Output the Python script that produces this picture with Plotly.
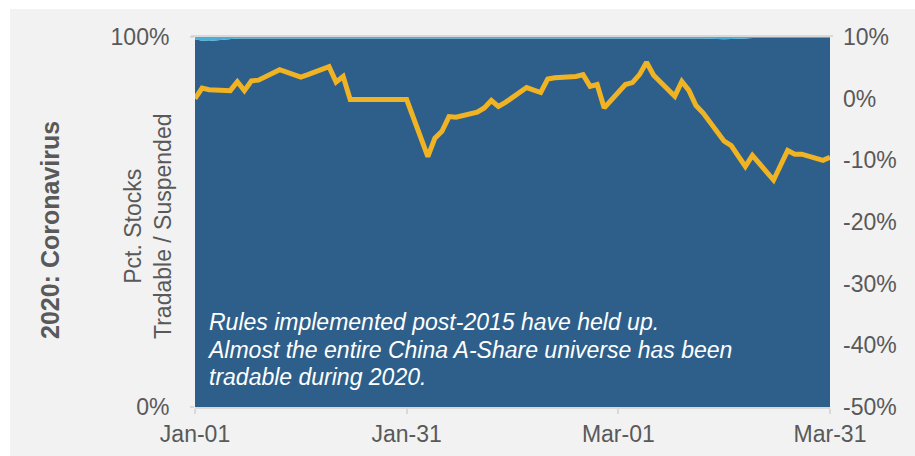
import plotly.graph_objects as go

# ---- data ----
line_dates = [
    "2020-01-01", "2020-01-02", "2020-01-03", "2020-01-06", "2020-01-07", "2020-01-08",
    "2020-01-09", "2020-01-10", "2020-01-13", "2020-01-14", "2020-01-15", "2020-01-16",
    "2020-01-17", "2020-01-20", "2020-01-21", "2020-01-22", "2020-01-23", "2020-01-24",
    "2020-01-27", "2020-01-28", "2020-01-29", "2020-01-30", "2020-01-31", "2020-02-03",
    "2020-02-04", "2020-02-05", "2020-02-06", "2020-02-07", "2020-02-10", "2020-02-11",
    "2020-02-12", "2020-02-13", "2020-02-14", "2020-02-17", "2020-02-18", "2020-02-19",
    "2020-02-20", "2020-02-21", "2020-02-24", "2020-02-25", "2020-02-26", "2020-02-27",
    "2020-02-28", "2020-03-02", "2020-03-03", "2020-03-04", "2020-03-05", "2020-03-06",
    "2020-03-09", "2020-03-10", "2020-03-11", "2020-03-12", "2020-03-13", "2020-03-16",
    "2020-03-17", "2020-03-18", "2020-03-19", "2020-03-20", "2020-03-23", "2020-03-24",
    "2020-03-25", "2020-03-26", "2020-03-27", "2020-03-30", "2020-03-31",
]
index_return_pct = [
    0.0, 1.7, 1.45, 1.3, 2.75, 1.3,
    2.9, 3.0, 4.7, 4.3, 3.9, 3.5,
    3.9, 5.2, 2.7, 3.6, -0.15, -0.15,
    -0.15, -0.15, -0.15, -0.15, -0.15, -9.4,
    -6.4, -5.3, -2.9, -3.0, -2.2, -1.5,
    -0.3, -1.25, -0.6, 1.8, 1.5, 1.0,
    3.2, 3.4, 3.6, 3.9, 2.0, 2.3,
    -1.5, 2.3, 2.6, 3.9, 5.9, 3.8,
    0.4, 2.8, 1.35, -1.1, -2.3, -6.9,
    -7.6, -9.3, -11.0, -9.2, -13.2, -10.8,
    -8.4, -9.0, -9.0, -10.0, -9.5,
]
suspended_pct = [
    0.6, 1.0, 1.1, 0.5, 0.4, 0.4,
    0.4, 0.3, 0.3, 0.3, 0.3, 0.3,
    0.3, 0.3, 0.3, 0.3, 0.3, 0.3,
    0.3, 0.3, 0.3, 0.3, 0.3, 0.3,
    0.3, 0.3, 0.3, 0.3, 0.3, 0.3,
    0.3, 0.3, 0.3, 0.3, 0.3, 0.3,
    0.3, 0.3, 0.3, 0.3, 0.3, 0.3,
    0.3, 0.3, 0.3, 0.3, 0.3, 0.3,
    0.3, 0.3, 0.3, 0.3, 0.4, 0.6,
    0.6, 0.5, 0.4, 0.3, 0.3, 0.3,
    0.3, 0.3, 0.3, 0.3, 0.3,
]
tradable_pct = [100 - s for s in suspended_pct]

left_tickvals = [0, 100]
left_ticktext = ["0%", "100%"]
right_tickvals = [-50, -40, -30, -20, -10, 0, 10]
right_ticktext = ["-50%", "-40%", "-30%", "-20%", "-10%", "0%", "10%"]
x_tickvals = ["2020-01-01", "2020-01-31", "2020-03-01", "2020-03-31"]
x_ticktext = ["Jan-01", "Jan-31", "Mar-01", "Mar-31"]

side_title = "2020: Coronavirus"
axis_title = "Pct. Stocks<br>Tradable / Suspended"
note_lines = [
    "Rules implemented post-2015 have held up.",
    "Almost the entire China A-Share universe has been",
    "tradable during 2020.",
]

# ---- style ----
FONT = "Arial, Liberation Sans, sans-serif"
GREY_TXT = "#595959"
DARK = "#2e5f8a"
LIGHT = "#4aaed8"
GOLD = "#f0b323"
BG = "#f2f2f2"

W, H = 915, 456
ML, MR, MT, MB = 195, 85, 37, 49
PW, PH = W - ML - MR, H - MT - MB


def px_x(px):
    return (px - ML) / PW


def px_y(py):
    return (H - MB - py) / PH


fig = go.Figure()
fig.add_trace(go.Scatter(
    x=line_dates, y=tradable_pct, mode="lines", stackgroup="a",
    line=dict(width=0, color=DARK), fillcolor=DARK, hoverinfo="skip", showlegend=False,
))
fig.add_trace(go.Scatter(
    x=line_dates, y=suspended_pct, mode="lines", stackgroup="a",
    line=dict(width=0, color=LIGHT), fillcolor=LIGHT, hoverinfo="skip", showlegend=False,
))
fig.add_trace(go.Scatter(
    x=line_dates, y=index_return_pct, mode="lines", yaxis="y2",
    line=dict(width=5, color=GOLD), showlegend=False,
))

annotations = [
    dict(text="<b>" + side_title + "</b>", xref="paper", yref="paper",
         x=px_x(50), y=px_y(230), textangle=-90, showarrow=False,
         xanchor="center", yanchor="middle",
         font=dict(size=25, color=GREY_TXT, family=FONT)),
    dict(text=axis_title, xref="paper", yref="paper",
         x=px_x(148), y=px_y(227), textangle=-90, showarrow=False,
         xanchor="center", yanchor="middle",
         font=dict(size=23, color=GREY_TXT, family=FONT)),
]
note_x = [207, 205, 207]
for i, ln in enumerate(note_lines):
    annotations.append(dict(
        text=ln, xref="paper", yref="paper",
        x=px_x(note_x[i]), y=px_y(322 + 27.5 * i), showarrow=False, align="left",
        xanchor="left", yanchor="middle",
        font=dict(size=23, color="white", family=FONT, style="italic")))

fig.update_layout(
    width=W, height=H, autosize=False,
    margin=dict(l=ML, r=MR, t=MT, b=MB, pad=0, autoexpand=False),
    paper_bgcolor="white", plot_bgcolor="rgba(0,0,0,0)",
    font=dict(family=FONT, color=GREY_TXT, size=23),
    xaxis=dict(
        type="date", range=["2020-01-01", "2020-03-31"], automargin=False,
        tickvals=x_tickvals, ticktext=x_ticktext,
        showgrid=False, zeroline=False,
        showline=True, linecolor="#d9d9d9", linewidth=2,
        ticks="outside", ticklen=5, tickcolor="#d9d9d9", tickwidth=2,
        ticklabelstandoff=0,
        tickfont=dict(size=23, color=GREY_TXT),
    ),
    yaxis=dict(
        range=[0, 100], tickvals=left_tickvals, ticktext=left_ticktext,
        automargin=False,
        showgrid=False, zeroline=False, showline=False,
        ticks="outside", ticklen=4, tickcolor="#d9d9d9", tickwidth=2,
        ticklabelstandoff=16,
        tickfont=dict(size=23, color=GREY_TXT),
    ),
    yaxis2=dict(
        overlaying="y", side="right", range=[-50, 10], automargin=False,
        tickvals=right_tickvals, ticktext=right_ticktext,
        showgrid=False, zeroline=False, showline=False,
        ticklabelstandoff=12,
        tickfont=dict(size=23, color=GREY_TXT),
    ),
    shapes=[
        dict(type="rect", xref="paper", yref="paper", layer="below",
             x0=px_x(10), x1=px_x(W + 5), y0=px_y(H + 5), y1=px_y(9),
             fillcolor=BG, line=dict(width=0)),
        dict(type="line", xref="paper", yref="paper", layer="above",
             x0=px_x(191), x1=px_x(833), y0=px_y(36), y1=px_y(36),
             line=dict(color="#d0d0d0", width=1.5)),
    ],
    annotations=annotations,
)

fig.write_html("out.html", config={"displayModeBar": False},
               post_script="document.body.style.margin='0';document.body.style.overflow='hidden';")
